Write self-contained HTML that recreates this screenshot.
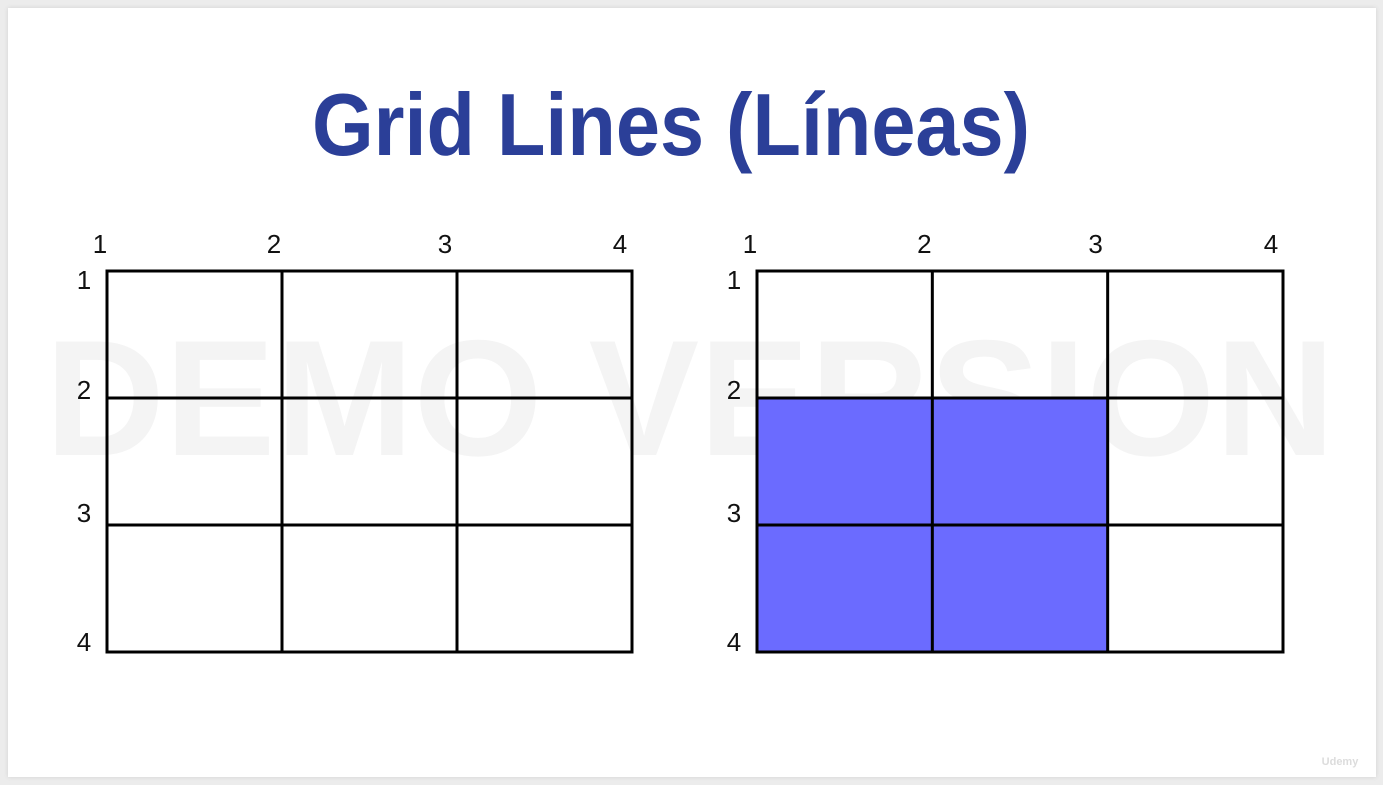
<!DOCTYPE html>
<html><head><meta charset="utf-8"><style>
html,body{margin:0;padding:0;background:#ececec;width:1383px;height:785px;overflow:hidden}
#slide{position:absolute;left:8px;top:8px;width:1368px;height:769px;background:#fff;box-shadow:0 0 4px #d0d0d0}
svg{position:absolute;left:0;top:0}
</style></head><body>
<div id="slide"></div>
<svg id="chart" width="1383" height="785">
<text x="690" y="455" font-family="Liberation Sans, sans-serif" font-weight="bold" font-size="165" fill="#f4f4f4" text-anchor="middle" textLength="1290" lengthAdjust="spacingAndGlyphs">DEMO VERSION</text>
<text x="671" y="155" font-family="Liberation Sans, sans-serif" font-weight="bold" font-size="88" fill="#2b3f98" text-anchor="middle" textLength="718" lengthAdjust="spacingAndGlyphs">Grid Lines (Líneas)</text>
<text x="1340" y="765" font-family="Liberation Sans, sans-serif" font-weight="bold" font-size="11" fill="#dcdcdc" text-anchor="middle">Udemy</text>
</svg>
<script>
const colLabels=["1","2","3","4"];
const rowLabels=["1","2","3","4"];
const leftFill=null;
const rightFillCols=[1,3];
const rightFillRows=[2,4];
const NS="http://www.w3.org/2000/svg";
const svg=document.getElementById('chart');
function mk(t,a){const e=document.createElementNS(NS,t);for(const k in a)e.setAttribute(k,a[k]);svg.appendChild(e);return e;}
function drawGrid(x0,x1,y0,y1,fillCols,fillRows,prefix){
  const n=colLabels.length-1,m=rowLabels.length-1;
  const xs=i=>x0+(x1-x0)*(i-1)/n, ys=i=>y0+(y1-y0)*(i-1)/m;
  if(fillCols){
    const r=mk('rect',{x:xs(fillCols[0]),y:ys(fillRows[0]),width:xs(fillCols[1])-xs(fillCols[0]),height:ys(fillRows[1])-ys(fillRows[0]),fill:'#6b6bff'});
    
    
  }
  const colOff=[-7,-8,-12,-12];
  colLabels.forEach((c,i)=>{
    const l=mk('line',{x1:xs(i+1),x2:xs(i+1),y1:y0,y2:y1,stroke:'#000','stroke-width':3,'stroke-linecap':'square'});
    
    
    const t=mk('text',{x:xs(i+1)+colOff[i],y:253,'font-family':'Liberation Sans, sans-serif','font-size':26,fill:'#111','text-anchor':'middle'});
    t.textContent=c;
    
    
  });
  const rowOff=[9,-8,-12,-10];
  rowLabels.forEach((r,i)=>{
    const l=mk('line',{x1:x0,x2:x1,y1:ys(i+1),y2:ys(i+1),stroke:'#000','stroke-width':3,'stroke-linecap':'square'});
    
    
    const t=mk('text',{x:x0-23,y:ys(i+1)+rowOff[i]+9,'font-family':'Liberation Sans, sans-serif','font-size':26,fill:'#111','text-anchor':'middle'});
    t.textContent=r;
    
    
  });
}
drawGrid(107,632,271,652,leftFill,null,'left');
drawGrid(757,1283,271,652,rightFillCols,rightFillRows,'right');
</script>
</body></html>
